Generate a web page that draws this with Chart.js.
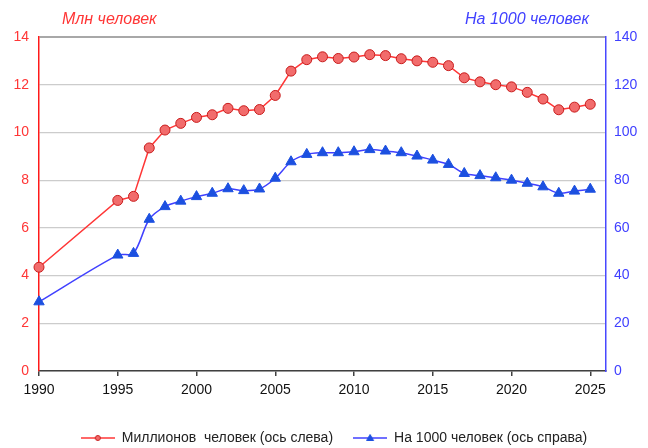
<!DOCTYPE html>
<html>
<head>
<meta charset="utf-8">
<script src="https://cdn.jsdelivr.net/npm/chart.js@4/dist/chart.umd.min.js"></script>
<style>
    body { margin: 0; background: #fff; }
    canvas { display: block; }
</style>
</head>
<body>
<canvas id="chart" width="648" height="448"></canvas>
<script>
// Данные
const years = [1990, 1995, 1996, 1997, 1998, 1999, 2000, 2001, 2002, 2003, 2004, 2005, 2006, 2007,
    2008, 2009, 2010, 2011, 2012, 2013, 2014, 2015, 2016, 2017, 2018, 2019, 2020, 2021, 2022, 2023, 2024, 2025];
const millions = [4.35, 7.15, 7.32, 9.35, 10.1, 10.38, 10.63, 10.74, 11.01, 10.91, 10.96, 11.55, 12.57, 13.05,
    13.17, 13.1, 13.16, 13.26, 13.22, 13.09, 13.0, 12.94, 12.8, 12.29, 12.12, 12.0, 11.91, 11.68, 11.4, 10.95, 11.06, 11.18];
const per1000 = [29.0, 48.6, 49.3, 63.6, 68.9, 71.2, 73.1, 74.5, 76.4, 75.6, 76.3, 80.8, 87.7, 90.8,
    91.5, 91.5, 91.9, 92.8, 92.2, 91.5, 90.1, 88.4, 86.6, 82.8, 81.9, 81.0, 80.0, 78.7, 77.2, 74.5, 75.4, 76.2];
const xTicks = [1990, 1995, 2000, 2005, 2010, 2015, 2020, 2025];
const leftTicks = [0, 2, 4, 6, 8, 10, 12, 14];
const rightTicks = [0, 20, 40, 60, 80, 100, 120, 140];
const labelLeft = 'Млн человек';
const labelRight = 'На 1000 человек';
const seriesNames = ['Миллионов  человек (ось слева)', 'На 1000 человек (ось справа)'];

const FONT = '"Liberation Sans", Arial, sans-serif';
const RED = '#ff3636';
const BLUE = '#4040ff';

// Значки для легенды: линия с маркером
function legendIcon(color, fill, stroke, shape) {
    const c = document.createElement('canvas');
    c.width = 34; c.height = 12;
    const g = c.getContext('2d');
    g.strokeStyle = color; g.lineWidth = 1.5;
    g.beginPath(); g.moveTo(0, 6); g.lineTo(34, 6); g.stroke();
    g.fillStyle = fill; g.strokeStyle = stroke; g.lineWidth = 1;
    g.beginPath();
    if (shape === 'circle') {
        g.arc(17, 6, 2.5, 0, Math.PI * 2);
    } else {
        g.moveTo(17, 2.5); g.lineTo(20.5, 8.5); g.lineTo(13.5, 8.5); g.closePath();
    }
    g.fill(); g.stroke();
    return c;
}

const axisTitles = {
    id: 'axisTitles',
    afterDraw(chart) {
        const ctx = chart.ctx;
        ctx.save();
        ctx.font = 'italic 16px ' + FONT;
        ctx.textBaseline = 'middle';
        ctx.fillStyle = RED;
        ctx.textAlign = 'left';
        ctx.fillText(labelLeft, 62, 20);
        ctx.fillStyle = BLUE;
        ctx.textAlign = 'right';
        ctx.fillText(labelRight, 589, 20);
        ctx.restore();
    }
};

// Сдвиг легенды чуть вниз и вправо, как в оригинале
const legendShift = {
    id: 'legendShift',
    afterUpdate(chart) {
        const lg = chart.legend;
        if (!lg) return;
        lg.top += 7; lg.bottom += 7;
        lg.left += 10; lg.right += 10;
    }
};

const ctx = document.getElementById('chart').getContext('2d');
new Chart(ctx, {
    type: 'line',
    data: {
        datasets: [{
            label: seriesNames[0],
            data: years.map((y, i) => ({ x: y, y: millions[i] })),
            yAxisID: 'y',
            borderColor: RED,
            borderWidth: 1.5,
            backgroundColor: '#f26c6c',
            pointBorderColor: '#c81c1c',
            pointBorderWidth: 1,
            pointStyle: 'circle',
            pointRadius: 5,
            tension: 0,
            clip: false
        }, {
            label: seriesNames[1],
            data: years.map((y, i) => ({ x: y, y: per1000[i] })),
            yAxisID: 'y2',
            borderColor: BLUE,
            borderWidth: 1.5,
            backgroundColor: '#1c50e0',
            pointBorderColor: '#1c50e0',
            pointBorderWidth: 1,
            pointStyle: 'triangle',
            pointRadius: 6,
            tension: 0.3,
            clip: false
        }]
    },
    options: {
        responsive: false,
        devicePixelRatio: 1,
        animation: false,
        layout: { padding: { top: 37, left: 0, right: 0, bottom: 0 } },
        plugins: {
            tooltip: { enabled: false },
            legend: {
                position: 'bottom',
                labels: {
                    font: { family: FONT, size: 14 },
                    color: '#222',
                    usePointStyle: true,
                    pointStyleWidth: 34,
                    boxHeight: 12,
                    padding: 20,
                    generateLabels: () => [
                        { text: seriesNames[0], pointStyle: legendIcon(RED, '#f26c6c', '#c81c1c', 'circle'), datasetIndex: 0, fontColor: '#222' },
                        { text: seriesNames[1], pointStyle: legendIcon(BLUE, '#1c50e0', '#1c50e0', 'triangle'), datasetIndex: 1, fontColor: '#222' }
                    ]
                }
            }
        },
        scales: {
            x: {
                type: 'linear',
                min: 1990,
                max: 2026,
                afterBuildTicks: axis => { axis.ticks = xTicks.map(v => ({ value: v })); },
                afterFit: axis => { axis.height = 33; },
                grid: { drawOnChartArea: false, drawTicks: true, tickLength: 5, tickColor: '#404040', lineWidth: 1.5 },
                border: { color: '#404040', width: 1.5 },
                ticks: { font: { family: FONT, size: 14 }, color: '#111', padding: 6, maxRotation: 0, callback: v => String(v) }
            },
            y: {
                position: 'left',
                min: 0,
                max: 14,
                afterBuildTicks: axis => { axis.ticks = leftTicks.map(v => ({ value: v })); },
                afterFit: axis => { axis.width = 39; },
                grid: {
                    drawTicks: false,
                    color: c => c.tick.value === 14 ? '#a8a8a8' : '#cccccc',
                    lineWidth: c => c.tick.value === 14 ? 2 : 1.2
                },
                border: { color: '#ff1a1a', width: 1.5 },
                ticks: { font: { family: FONT, size: 14 }, color: RED, padding: 10 }
            },
            y2: {
                position: 'right',
                min: 0,
                max: 140,
                afterBuildTicks: axis => { axis.ticks = rightTicks.map(v => ({ value: v })); },
                afterFit: axis => { axis.width = 42; },
                grid: { drawOnChartArea: false, drawTicks: false },
                border: { color: '#4848ff', width: 1.5 },
                ticks: { font: { family: FONT, size: 14 }, color: BLUE, padding: 8 }
            }
        }
    },
    plugins: [axisTitles, legendShift]
});
</script>
</body>
</html>
